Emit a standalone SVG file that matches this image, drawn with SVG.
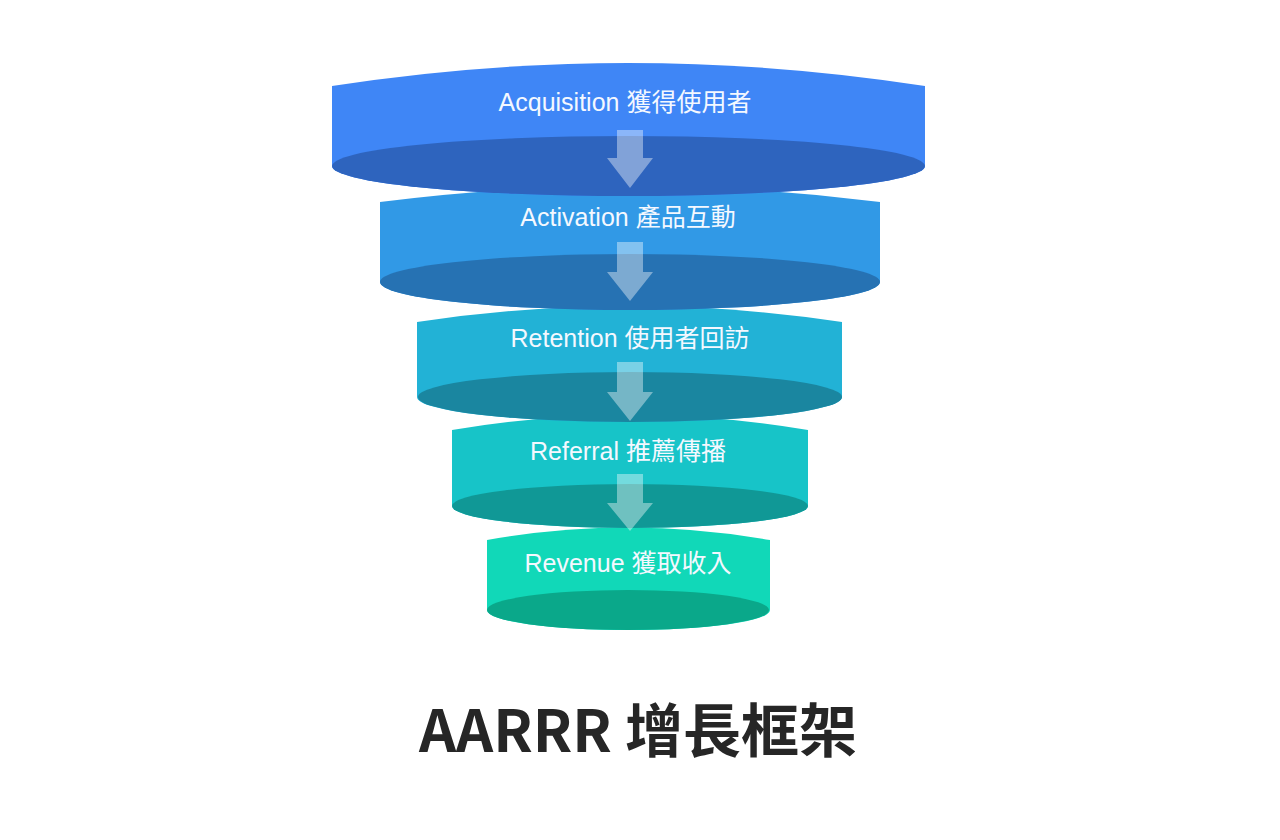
<svg xmlns="http://www.w3.org/2000/svg" width="1280" height="840" viewBox="0 0 1280 840">
<style>
.lbl{font-family:"Liberation Sans","Noto Sans CJK TC",sans-serif;font-size:25px;fill:#f4f8ff;text-anchor:middle}
.title{font-family:"Noto Sans CJK TC",sans-serif;font-size:58px;font-weight:700;fill:#262626;text-anchor:middle}
.arr{fill:#ffffff;fill-opacity:0.4}
</style>
<rect width="1280" height="840" fill="#ffffff"/>
<g id="revenue">
<path d="M487,540 Q628,515 770,540 L770,610 A141,20 0 0 1 487,610 Z" fill="#11d8b8"/>
<ellipse cx="628" cy="610" rx="141" ry="20" fill="#0aa88a"/>
<text class="lbl" x="628" y="572">Revenue 獲取收入</text>
</g>
<g id="referral">
<path d="M452,430 Q630,400 808,430 L808,506 A178,22 0 0 1 452,506 Z" fill="#17c4c8"/>
<ellipse cx="630" cy="506" rx="178" ry="22" fill="#109896"/>
<text class="lbl" x="628" y="460">Referral 推薦傳播</text>
</g>
<g id="retention">
<path d="M417,322 Q630,290 842,322 L842,397 A212,25 0 0 1 417,397 Z" fill="#22b2d6"/>
<ellipse cx="630" cy="397" rx="212" ry="25" fill="#1a86a0"/>
<text class="lbl" x="630" y="347">Retention 使用者回訪</text>
</g>
<g id="activation">
<path d="M380,202 Q630,170 880,202 L880,282 A250,28 0 0 1 380,282 Z" fill="#3199e6"/>
<ellipse cx="630" cy="282" rx="250" ry="28" fill="#2672b3"/>
<text class="lbl" x="628" y="226">Activation 產品互動</text>
</g>
<g id="acquisition">
<path d="M332,86 Q628,40 925,86 L925,166 A296.5,30 0 0 1 332,166 Z" fill="#3f86f6"/>
<ellipse cx="628.5" cy="166" rx="296.5" ry="30" fill="#2e64be"/>
<text class="lbl" x="625" y="111">Acquisition 獲得使用者</text>
</g>
<g id="connectors">
<path class="arr" d="M617,130 H643 V158 H653 L630,188 L607,158 H617 Z"/>
<path class="arr" d="M617,242 H643 V272 H653 L630,301 L607,272 H617 Z"/>
<path class="arr" d="M617,362 H643 V392 H653 L630,421 L607,392 H617 Z"/>
<path class="arr" d="M617,474 H643 V503 H653 L630,531 L607,503 H617 Z"/>
</g>
<text class="title" x="638" y="752">AARRR 增長框架</text>
</svg>
